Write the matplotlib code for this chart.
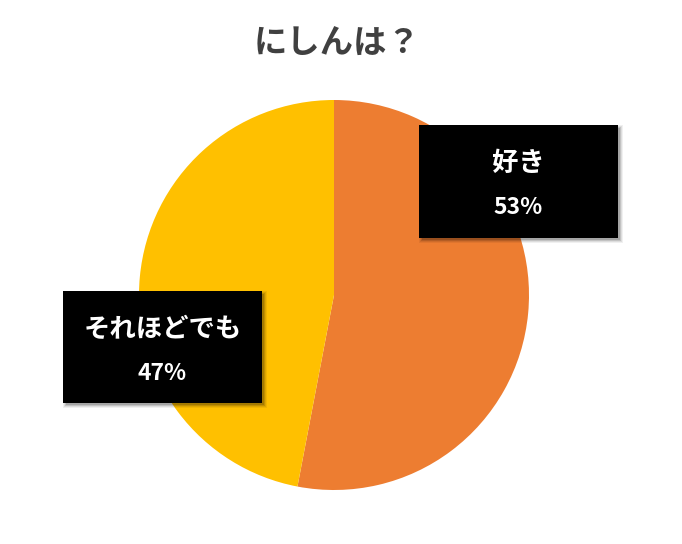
import matplotlib
matplotlib.use('Agg')
from matplotlib import pyplot as plt
from matplotlib.patches import Rectangle

plt.rcParams['font.family'] = ['Noto Sans CJK JP', 'DejaVu Sans']

title = 'にしんは？'
categories = ['好き', 'それほどでも']
values = [53, 47]
colors = ['#ED7D31', '#FFC000']

W, H = 682, 544
fig = plt.figure(figsize=(W / 100, H / 100), dpi=100)

# pie area in pixels: x 139..529, y 100..490
ax = fig.add_axes([139 / W, 1 - 490 / H, 390 / W, 390 / H])
ax.pie(values, colors=colors, startangle=90, counterclock=False,
       radius=1.0, wedgeprops={'linewidth': 0})
ax.set_xlim(-1, 1)
ax.set_ylim(-1, 1)
ax.set_aspect('equal')
ax.axis('off')

fig.text(337 / W, 1 - 44 / H, title, ha='center', va='center',
         fontsize=24, fontweight='bold', color='#404040')


def rect(x0, y0, x1, y1, **kw):
    fig.patches.append(Rectangle((x0 / W, 1 - y1 / H),
                                 (x1 - x0) / W, (y1 - y0) / H,
                                 transform=fig.transFigure,
                                 edgecolor='none', **kw))


def label_box(x0, y0, x1, y1, name, pct):
    # soft shadow
    for d, a in [(5, 0.06), (4, 0.08), (3, 0.12), (2, 0.15)]:
        rect(x0 + 3 - d + 2, y0 + 3 - d + 2, x1 + d, y1 + d,
             facecolor='black', alpha=a)
    rect(x0, y0, x1, y1, facecolor='black')
    cx = (x0 + x1) / 2
    cy = (y0 + y1) / 2
    fig.text(cx / W, 1 - (cy - 18) / H, name, ha='center', va='center',
             fontsize=19, fontweight='bold', color='white')
    fig.text(cx / W, 1 - (cy + 26) / H, pct, ha='center', va='center',
             fontsize=16.5, fontweight='bold', color='white')


label_box(419, 125, 618, 238, categories[0], f'{values[0]}%')
label_box(63, 291, 262, 403, categories[1], f'{values[1]}%')

fig.savefig('out.png', dpi=100)
